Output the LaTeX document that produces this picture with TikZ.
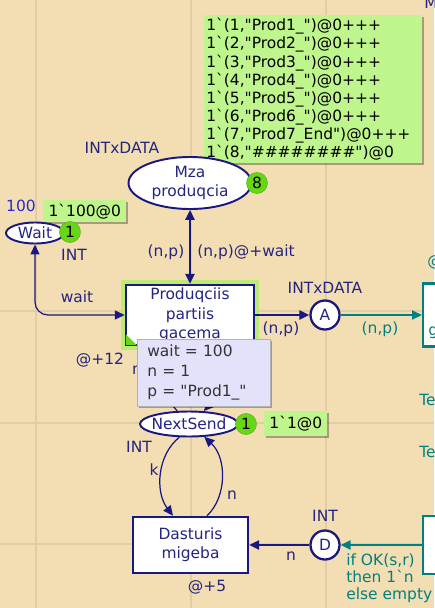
\documentclass[tikz,border=0pt]{standalone}
\usepackage{fontspec}
\setmainfont{DejaVu Sans}
\usepackage{xcolor}
\definecolor{cpnnavy}{RGB}{24,24,128}
\definecolor{cpntext}{RGB}{36,36,130}
\definecolor{cpnteal}{RGB}{0,128,128}
\definecolor{cpnbg}{RGB}{243,221,179}
\definecolor{cpngrid}{RGB}{226,204,163}
\definecolor{markgreen}{RGB}{190,245,140}
\definecolor{tokengreen}{RGB}{104,214,24}
\definecolor{bindlav}{RGB}{226,226,250}
\definecolor{halogreen}{RGB}{176,238,100}
\definecolor{cpnblue}{RGB}{40,40,220}
\newcommand{\cpnq}{\textquotedbl}
\usepackage{tikz}
\usetikzlibrary{
  shapes.geometric,
  arrows.meta,
  positioning,
  shadows
}

\begin{document}
\begin{tikzpicture}[
  x=0.02cm, y=-0.02cm,
  font=\fontsize{8.8}{11}\selectfont,
  place/.style={ellipse, draw=cpnnavy, fill=white, line width=1.1pt, text=cpntext, inner sep=0pt, align=center},
  port/.style={circle, draw=cpnnavy, fill=white, line width=1.3pt, text=cpntext, minimum size=0.58cm, inner sep=0pt},
  trans/.style={rectangle, draw=cpnnavy, fill=white, line width=1.4pt, text=cpntext, align=center, inner sep=0pt},
  ttrans/.style={trans, draw=cpnteal, text=cpnteal},
  token/.style={circle, fill=tokengreen, draw=tokengreen!85!black, line width=0.3pt, minimum size=0.42cm, inner sep=0pt},
  marking/.style={rectangle, fill=markgreen, align=left, inner sep=0pt, drop shadow={shadow xshift=0.04cm, shadow yshift=-0.04cm, fill=black, opacity=0.3}},
  binding/.style={rectangle, fill=bindlav, draw=black!30, line width=0.4pt, text=black!80, align=left, text width=2.26cm, inner xsep=0.2cm, minimum height=1.26cm, font=\fontsize{8.8}{11.3}\selectfont, drop shadow={shadow xshift=0.04cm, shadow yshift=-0.04cm, fill=black, opacity=0.3}},
  lbl/.style={text=cpntext, inner sep=0pt},
  tlbl/.style={text=cpnteal, inner sep=0pt},
  arc/.style={draw=cpnnavy, line width=0.7pt, -{Triangle[length=0.2cm, width=0.18cm]}},
  dbl/.style={{Triangle[length=0.2cm, width=0.18cm]}-{Triangle[length=0.2cm, width=0.18cm]}},
  thickarc/.style={arc, line width=1.4pt},
  tealarc/.style={arc, draw=cpnteal, line width=1.2pt}
]
  \useasboundingbox (0,0) rectangle (434,608);
  \fill[cpnbg] (0,0) rectangle (434,608);
  \foreach \gx in {36,191,326}
    \draw[cpngrid, line width=0.04cm] (\gx,0) -- (\gx,608);
  \foreach \gy in {311,423,544}
    \draw[cpngrid, line width=0.04cm] (0,\gy) -- (434,\gy);

  \node[marking, anchor=north west, minimum width=4.36cm, minimum height=2.96cm, text width=4.28cm, font=\fontsize{8.8}{10.3}\selectfont] (mzainit) at (204,15) {1\textasciigrave(1,\cpnq Prod1\_\cpnq)@0+++\\1\textasciigrave(2,\cpnq Prod2\_\cpnq)@0+++\\1\textasciigrave(3,\cpnq Prod3\_\cpnq)@0+++\\1\textasciigrave(4,\cpnq Prod4\_\cpnq)@0+++\\1\textasciigrave(5,\cpnq Prod5\_\cpnq)@0+++\\1\textasciigrave(6,\cpnq Prod6\_\cpnq)@0+++\\1\textasciigrave(7,\cpnq Prod7\_End\cpnq)@0+++\\1\textasciigrave(8,\cpnq\#\#\#\#\#\#\#\#\cpnq)@0};
  \node[lbl] (mzatype) at (122,148) {INTxDATA};
  \node[place, minimum width=2.46cm, minimum height=1.04cm] (mza) at (190,183) {Mza\\produqcia};
  \node[token] (mzatok) at (257,183) {8};

  \node[lbl, text=cpnblue] (waitdelay) at (21,206) {100};
  \node[marking, anchor=north west, minimum width=1.66cm, minimum height=0.44cm] (waitinit) at (43,200) {1\textasciigrave 100@0};
  \node[place, minimum width=1.16cm, minimum height=0.42cm] (waitp) at (35,233) {Wait};
  \node[token] (waittok) at (70,232) {1};
  \node[lbl] (waittype) at (74,255) {INT};

  \node[trans, minimum width=2.56cm, minimum height=1.2cm, preaction={draw=halogreen, line width=0.2cm, draw opacity=0.8}] (tprod) at (190,315) {Produqciis\\partiis\\gacema};
  \fill[tokengreen] ([shift={(1,-1)}]tprod.south west) -- ++(0,-11) -- ++(11,11) -- cycle;
  \node[lbl] (tprodtime) at (100,360) {@+12};

  \draw[thickarc, dbl] (mza) -- (tprod);
  \node[lbl] (mzain) at (166,252) {(n,p)};
  \node[lbl] (mzaout) at (246,252) {(n,p)@+wait};
  \draw[arc, dbl, rounded corners=0.26cm] (waitp) |- (tprod.west);
  \node[lbl] (waitarc) at (77,297) {wait};

  \node[port] (pA) at (325,315) {A};
  \node[lbl] (pAtype) at (325,288) {INTxDATA};
  \node[ttrans, anchor=west, minimum width=0.6cm, minimum height=1.26cm] (ttop) at (422,315) {};
  \node[tlbl, anchor=west] (ttoptime) at (427,262) {@};
  \node[tlbl, anchor=west] (ttopname) at (428,333) {g};
  \draw[thickarc] (tprod) -- (pA);
  \node[lbl] (aout) at (281,329) {(n,p)};
  \draw[tealarc] (pA) -- (ttop);
  \node[tlbl] (ain) at (380,329) {(n,p)};
  \node[tlbl, anchor=west] (tecut) at (419,400) {Te};
  \node[tlbl, anchor=west] (tecutb) at (419,452) {Te};
  \node[lbl, anchor=south west] (mcut) at (424,9) {M};

  \node[place, minimum width=1.96cm, minimum height=0.5cm, inner xsep=-0.06cm] (nextsend) at (189,424) {NextSend};
  \node[token] (nexttok) at (246,424) {1};
  \node[marking, anchor=north west, minimum width=1.26cm, minimum height=0.5cm] (nextinit) at (264,411) {1\textasciigrave 1@0};
  \node[lbl] (nexttype) at (139,447) {INT};

  \draw[arc] (nextsend.132) .. controls (160,392) and (152,368) .. ([xshift=-0.8cm]tprod.south);
  \draw[arc] ([xshift=0.5cm]tprod.south) .. controls (218,375) and (216,398) .. (nextsend.41);
  \node[lbl] (nsin) at (137,370) {n};
  \node[lbl] (nsout) at (147,401) {1};

  \node[binding, anchor=north west] (bind) at (137,339) {wait = 100\\n = 1\\p = \cpnq Prod1\_\cpnq};

  \node[trans, minimum width=2.3cm, minimum height=1.12cm] (tdast) at (190.5,545) {Dasturis\\migeba};
  \node[lbl] (tdasttime) at (207,587) {@+5};
  \draw[arc] (nextsend.234) .. controls (157,455) and (155,492) .. ([xshift=-0.35cm]tdast.north);
  \draw[arc] ([xshift=0.33cm]tdast.north) .. controls (227,497) and (227,458) .. (nextsend.320);
  \node[lbl] (karc) at (154,470) {k};
  \node[lbl] (narc) at (232,495) {n};

  \node[port] (pD) at (325,545) {D};
  \node[lbl] (pDtype) at (325,516) {INT};
  \node[ttrans, anchor=west, minimum width=0.6cm, minimum height=1.16cm] (tbot) at (422,545) {};
  \draw[thickarc] (pD) -- (tdast);
  \node[lbl] (dout) at (291,556) {n};
  \draw[tealarc] (tbot) -- (pD);
  \node[tlbl, anchor=north west, align=left, font=\fontsize{8.8}{9.9}\selectfont] (okexpr) at (346,553) {if OK(s,r)\\then 1\textasciigrave n\\else empty};
\end{tikzpicture}
\end{document}
